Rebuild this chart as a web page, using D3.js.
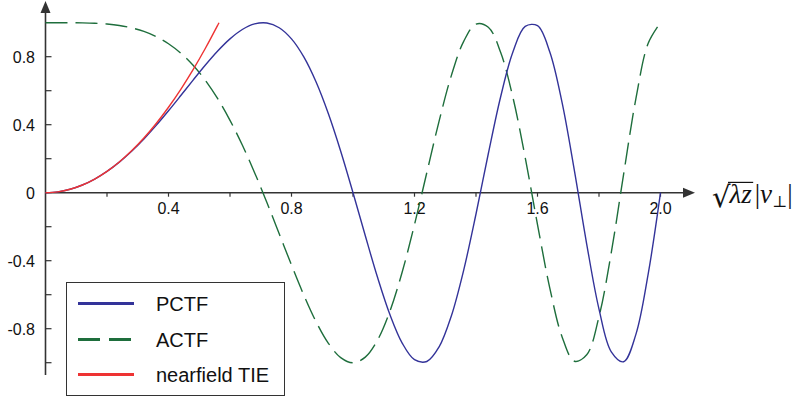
<!DOCTYPE html>
<html>
<head>
<meta charset="utf-8">
<script src="https://cdn.jsdelivr.net/npm/d3@7"></script>
<style>
  html, body { margin: 0; padding: 0; background: #fff; }
  svg { display: block; }
  .sans { font-family: "Liberation Sans", Arial, Helvetica, sans-serif; }
  .serif { font-family: "Liberation Serif", "DejaVu Serif", serif; }
  .radical { font-family: "DejaVu Serif", serif; }
</style>
</head>
<body>
<svg id="chart" width="801" height="401"></svg>
<script>
// Spatial frequency samples (sqrt(lambda z)|nu|)
const freq = [0.00,0.04,0.08,0.12,0.16,0.20,0.24,0.28,0.32,0.36,
              0.40,0.44,0.48,0.52,0.56,0.60,0.64,0.68,0.72,0.76,
              0.80,0.84,0.88,0.92,0.96,1.00,1.04,1.08,1.12,1.16,
              1.20,1.24,1.28,1.32,1.36,1.40,1.44,1.48,1.52,1.56,
              1.60,1.64,1.68,1.72,1.76,1.80,1.84,1.88,1.92,1.96,2.00];

// Phase contrast transfer function
const pctf = [0.0000,0.0050,0.0201,0.0452,0.0803,0.1253,0.1800,0.2438,0.3162,0.3960,
              0.4818,0.5714,0.6623,0.7510,0.8334,0.9048,0.9599,0.9930,0.9983,0.9704,
              0.9048,0.7986,0.6509,0.4640,0.2438,0.0000,-0.2535,-0.4992,-0.7169,-0.8847,
              -0.9823,-0.9930,-0.9070,-0.7238,-0.4551,-0.1253,0.2292,0.5631,0.8278,0.9783,
              0.9823,0.8278,0.5295,0.1303,-0.3018,-0.6845,-0.9361,-0.9942,-0.8334,-0.4774,0.0000];

// Amplitude contrast transfer function
const actf = [1.0000,1.0000,0.9998,0.9990,0.9968,0.9921,0.9837,0.9698,0.9487,0.9183,
              0.8763,0.8207,0.7493,0.6604,0.5527,0.4258,0.2802,0.1179,-0.0578,-0.2414,
              -0.4258,-0.6019,-0.7592,-0.8858,-0.9698,-1.0000,-0.9673,-0.8665,-0.6973,-0.4663,
              -0.1874,0.1179,0.4212,0.6900,0.8905,0.9921,0.9734,0.8264,0.5610,0.2071,
              -0.1874,-0.5610,-0.8484,-0.9915,-0.9534,-0.7290,-0.3517,0.1079,0.5527,0.8787,1.0000];

// Near-field (transport of intensity) approximation
const tieFreq = [0.00,0.04,0.08,0.12,0.16,0.20,0.24,0.28,0.32,0.36,0.40,0.44,0.48,0.52,0.56,0.5642];
const tie     = [0.0000,0.0050,0.0201,0.0452,0.0804,0.1257,0.1810,0.2463,0.3217,0.4072,
                 0.5027,0.6082,0.7238,0.8495,0.9852,1.0000];

const xTicks = [0.2,0.4,0.6,0.8,1.0,1.2,1.4,1.6,1.8,2.0];
const xLabels = ["0.4","0.8","1.2","1.6","2.0"];
const yTicks = [-1.0,-0.8,-0.6,-0.4,-0.2,0.2,0.4,0.6,0.8];
const yLabels = ["0.8","0.4","0","-0.4","-0.8"];

const legendNames = ["PCTF","ACTF","nearfield TIE"];
const colors = { pctf: "#333399", actf: "#1e6e3c", tie: "#ee3333", axis: "#333333" };

const svg = d3.select("#chart");

const x = d3.scaleLinear().domain([0, 2]).range([45.5, 660.5]);
const y = d3.scaleLinear().domain([-1, 1]).range([362.7, 22.7]);

const line = d3.line()
  .x(d => x(d[0]))
  .y(d => y(d[1]))
  .curve(d3.curveCatmullRom.alpha(0.5));

// ---- axes ----
const axisG = svg.append("g");
const x0 = x(0), y0 = y(0);

// horizontal axis with arrow
axisG.append("line")
  .attr("x1", x0).attr("y1", y0).attr("x2", 686).attr("y2", y0)
  .attr("stroke", colors.axis).attr("stroke-width", 1.6);
axisG.append("path")
  .attr("d", `M695,${y0} L683,${y0 - 5} L683,${y0 + 5} Z`)
  .attr("fill", colors.axis);

// vertical axis with arrow
axisG.append("line")
  .attr("x1", x0).attr("y1", 375).attr("x2", x0).attr("y2", 10)
  .attr("stroke", colors.axis).attr("stroke-width", 1.6);
axisG.append("path")
  .attr("d", `M${x0},1 L${x0 - 5},13 L${x0 + 5},13 Z`)
  .attr("fill", colors.axis);

// x ticks (downward)
axisG.selectAll(".xt").data(xTicks).enter().append("line")
  .attr("x1", d => x(d)).attr("x2", d => x(d))
  .attr("y1", y0).attr("y2", y0 + 4)
  .attr("stroke", colors.axis).attr("stroke-width", 1.2);

axisG.selectAll(".xl").data(xLabels).enter().append("text")
  .attr("class", "sans")
  .attr("x", d => x(+d)).attr("y", y0 + 21)
  .attr("text-anchor", "middle")
  .attr("font-size", 16).attr("fill", "#111")
  .text(d => d);

// y ticks (to the right)
axisG.selectAll(".yt").data(yTicks).enter().append("line")
  .attr("x1", x0).attr("x2", x0 + 6)
  .attr("y1", d => y(d)).attr("y2", d => y(d))
  .attr("stroke", colors.axis).attr("stroke-width", 1.2);

axisG.selectAll(".yl").data(yLabels).enter().append("text")
  .attr("class", "sans")
  .attr("x", 35).attr("y", d => y(+d) + 6)
  .attr("text-anchor", "end")
  .attr("font-size", 16).attr("fill", "#111")
  .text(d => d);

// ---- curves ----
svg.append("path")
  .datum(freq.map((f, i) => [f, actf[i]]))
  .attr("d", line)
  .attr("fill", "none").attr("stroke", colors.actf)
  .attr("stroke-width", 1.4).attr("stroke-dasharray", "22,8");

svg.append("path")
  .datum(freq.map((f, i) => [f, pctf[i]]))
  .attr("d", line)
  .attr("fill", "none").attr("stroke", colors.pctf)
  .attr("stroke-width", 1.4);

svg.append("path")
  .datum(tieFreq.map((f, i) => [f, tie[i]]))
  .attr("d", line)
  .attr("fill", "none").attr("stroke", colors.tie)
  .attr("stroke-width", 1.4);

// ---- x axis title: sqrt(lambda z)|nu_perp| ----
const titleG = svg.append("g");
const baseY = 203;
let cx = 712;
const rad = titleG.append("text").attr("class", "radical")
  .attr("x", cx).attr("y", baseY + 4)
  .attr("font-size", 29).attr("fill", "#111").text("\u221A");
const radW = rad.node().getComputedTextLength();
const radBox = rad.node().getBBox();
cx += radW - 1;
const under = titleG.append("text").attr("class", "serif")
  .attr("x", cx).attr("y", baseY)
  .attr("font-size", 27).attr("font-style", "italic").attr("fill", "#111").text("\u03BBz");
const underW = under.node().getComputedTextLength();
titleG.append("line")
  .attr("x1", cx - 1.5).attr("x2", cx + underW + 1.5)
  .attr("y1", radBox.y + 2.4).attr("y2", radBox.y + 2.4)
  .attr("stroke", "#111").attr("stroke-width", 1.2);
cx += underW + 3;
const rest = titleG.append("text").attr("class", "serif")
  .attr("x", cx).attr("y", baseY)
  .attr("font-size", 27).attr("fill", "#111");
rest.append("tspan").text("|");
rest.append("tspan").attr("font-style", "italic").text("\u03BD");
rest.append("tspan").attr("font-size", 16).attr("dy", 4).text("\u22A5");
rest.append("tspan").attr("dy", -4).text("|");

// ---- legend ----
const leg = svg.append("g");
leg.append("rect")
  .attr("x", 66.5).attr("y", 282.5).attr("width", 218).attr("height", 113)
  .attr("fill", "#fff").attr("stroke", "#333").attr("stroke-width", 1);

const legStyles = [
  { color: colors.pctf, dash: null },
  { color: colors.actf, dash: "22,9" },
  { color: colors.tie, dash: null }
];
const legY = [303.5, 339.5, 374.5];

legendNames.forEach((name, i) => {
  leg.append("line")
    .attr("x1", 78).attr("x2", 134)
    .attr("y1", legY[i]).attr("y2", legY[i])
    .attr("stroke", legStyles[i].color).attr("stroke-width", 3)
    .attr("stroke-dasharray", legStyles[i].dash);
  leg.append("text")
    .attr("class", "sans")
    .attr("x", 156).attr("y", legY[i] + 7)
    .attr("font-size", 20).attr("fill", "#111")
    .text(name);
});
</script>
</body>
</html>
